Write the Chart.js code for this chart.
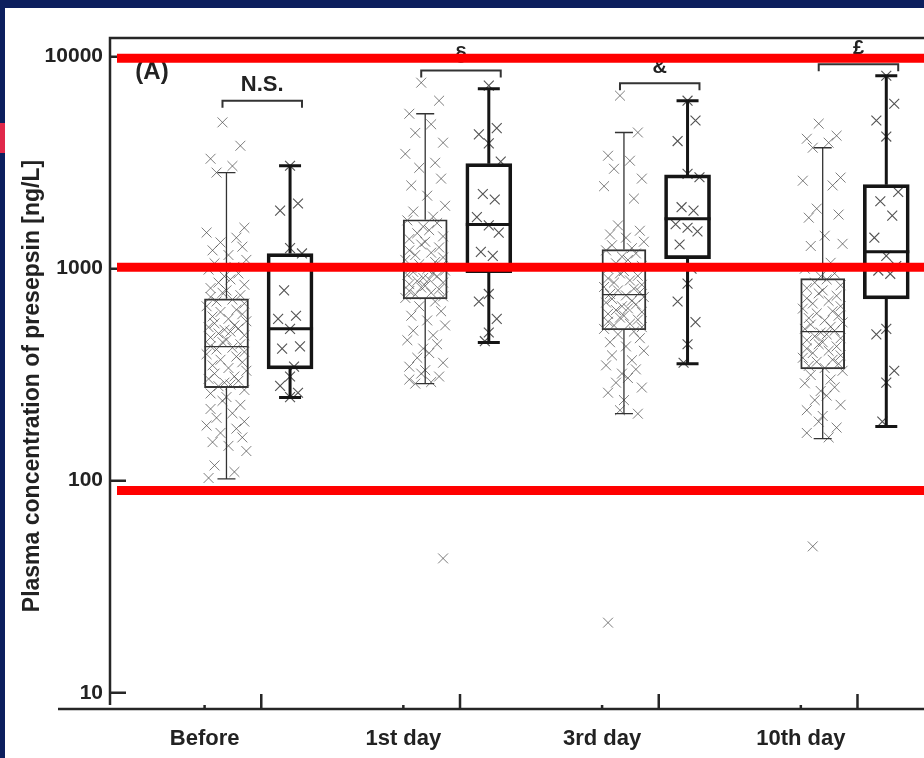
<!DOCTYPE html>
<html>
<head>
<meta charset="utf-8">
<script src="https://cdn.jsdelivr.net/npm/chart.js@4.4.1/dist/chart.umd.min.js"></script>
<style>
  html, body { margin: 0; padding: 0; background: #0c1f5e; }
  canvas { display: block; }
</style>
</head>
<body>
<canvas id="chart" width="924" height="758"></canvas>
<script>
var categories = ['Before', '1st day', '3rd day', '10th day'];
var yTicks = [10, 100, 1000, 10000];

// box stats per category: [lower whisker, Q1, median, Q3, upper whisker] (ng/L)
var boxGroupA = [
  [102, 275, 429, 721, 2840],
  [287, 721, 980, 1702, 5380],
  [207, 515, 754, 1231, 4390],
  [158, 337, 505, 898, 3720]
];
var boxGroupB = [
  [247, 337, 521, 1178, 3060],
  [448, 957, 1615, 3130, 7060],
  [356, 1115, 1722, 2770, 6200],
  [180, 721, 1202, 2490, 8130]
];

// individual values
var pointsA = [
  [4900, 3800, 3300, 3050, 2840, 1560, 1480, 1400, 1330, 1270, 1220, 1160, 1100, 1060, 1020,
   990, 950, 920, 890, 860, 840, 810, 790, 770, 750, 735, 715, 700, 685, 665, 640, 625, 610,
   595, 580, 565, 552, 540, 530, 522, 515, 505, 495, 485, 474, 462, 450, 440, 431, 424, 416,
   405, 395, 385, 372, 362, 350, 340, 330, 320, 310, 302, 296, 290, 284, 279, 268, 258, 248,
   238, 228, 218, 208, 198, 190, 182, 176, 168, 160, 152, 146, 138, 118, 110, 103],
  [7540, 6200, 5380, 4800, 4370, 3930, 3480, 3160, 2990, 2660, 2470, 2210, 1980, 1860, 1760,
   1690, 1640, 1580, 1520, 1470, 1420, 1380, 1340, 1300, 1260, 1220, 1190, 1160, 1130, 1100,
   1075, 1050, 1030, 1010, 995, 980, 965, 950, 935, 920, 905, 890, 875, 860, 845, 830, 815,
   800, 785, 770, 755, 740, 728, 700, 665, 630, 600, 570, 540, 510, 485, 460, 440, 420, 400,
   380, 360, 345, 332, 320, 310, 300, 292, 287, 43],
  [6550, 4390, 3410, 3230, 2960, 2660, 2450, 2140, 1600, 1510, 1450, 1400, 1340, 1290, 1250,
   1220, 1180, 1140, 1100, 1060, 1030, 1000, 975, 950, 925, 900, 880, 860, 840, 820, 805, 790,
   775, 760, 748, 735, 720, 706, 692, 678, 665, 650, 638, 625, 612, 600, 588, 575, 562, 550,
   540, 530, 520, 505, 490, 470, 450, 430, 410, 390, 370, 350, 335, 320, 305, 290, 275, 260,
   240, 215, 207, 21.4],
  [4830, 4240, 4100, 3930, 3720, 2690, 2600, 2470, 1920, 1800, 1740, 1430, 1310, 1280, 1066,
   1000, 950, 920, 890, 860, 835, 810, 790, 765, 745, 725, 705, 685, 665, 648, 630, 615, 600,
   585, 570, 558, 545, 532, 520, 510, 500, 490, 480, 470, 460, 450, 440, 430, 420, 410, 400,
   390, 380, 372, 364, 356, 348, 340, 330, 315, 300, 288, 276, 265, 252, 240, 228, 215, 202,
   190, 178, 168, 160, 49]
];
var pointsB = [
  [3060, 2030, 1880, 1250, 1180, 790, 600, 580, 520, 430, 420, 345, 310, 280, 260, 248],
  [7300, 4600, 4300, 3900, 3200, 2250, 2120, 1750, 1600, 1480, 1200, 1150, 760, 700, 580, 500, 455],
  [6200, 5000, 4000, 2800, 2700, 1950, 1880, 1620, 1560, 1500, 1300, 1000, 850, 700, 560, 440, 360],
  [8130, 6000, 5000, 4200, 2300, 2080, 1780, 1400, 1150, 1030, 980, 946, 520, 490, 330, 290, 190]
];

// horizontal spread of the dots, reused in turn
var jitterA = [-0.02, 0.07, -0.08, 0.03, -0.05, 0.09, -0.1, 0.05, -0.03, 0.08, -0.07, 0.01,
               0.1, -0.06, 0.04, -0.09, 0.06, -0.01, 0.02, -0.04, 0.09, -0.08, 0.0];
var jitterB = [0, 0.04, -0.05, 0, 0.06, -0.03, 0.03, -0.06, 0, 0.05, -0.04, 0.02, 0, -0.05, 0.04, 0, -0.02];

var bracketLabels = ['N.S.', '\u00a7', '&', '\u00a3'];
var bracketLevels = [6200, 8600, 7500, 9200];
var refLines = [9840, 1016, 90];

var SHIFT = 0.16;
var FONT = '"Liberation Sans", Arial, sans-serif';

function boxData(stats, side) {
  return stats.map(function (b, i) { return { x: i + side * SHIFT, y: [b[1], b[3]] }; });
}
function dotData(groups, jitter, side) {
  var out = [];
  groups.forEach(function (vals, i) {
    vals.forEach(function (v, k) {
      out.push({ x: i + side * SHIFT + jitter[k % jitter.length], y: v });
    });
  });
  return out;
}

var decor = {
  id: 'decor',
  beforeDraw: function (chart) {
    var ctx = chart.ctx;
    ctx.save();
    ctx.fillStyle = '#0c1f5e';
    ctx.fillRect(0, 0, chart.width, chart.height);
    ctx.fillStyle = '#ffffff';
    ctx.fillRect(5, 8, chart.width - 5, chart.height - 8);
    ctx.fillStyle = '#e0284a';
    ctx.fillRect(0, 123, 5, 30);
    ctx.restore();
  },
  afterDatasetsDraw: function (chart) {
    var ctx = chart.ctx, xs = chart.scales.x, ys = chart.scales.y;
    function drawBox(stats, side, width, color, cap, boxW) {
      ctx.strokeStyle = color;
      ctx.lineWidth = width;
      stats.forEach(function (b, i) {
        var cx = xs.getPixelForValue(i + side * SHIFT);
        var lo = ys.getPixelForValue(b[0]), q1 = ys.getPixelForValue(b[1]);
        var md = ys.getPixelForValue(b[2]), q3 = ys.getPixelForValue(b[3]);
        var hi = ys.getPixelForValue(b[4]);
        ctx.beginPath();
        ctx.moveTo(cx, q1); ctx.lineTo(cx, lo);
        ctx.moveTo(cx, q3); ctx.lineTo(cx, hi);
        ctx.moveTo(cx - cap / 2, lo); ctx.lineTo(cx + cap / 2, lo);
        ctx.moveTo(cx - cap / 2, hi); ctx.lineTo(cx + cap / 2, hi);
        ctx.moveTo(cx - boxW / 2, md); ctx.lineTo(cx + boxW / 2, md);
        ctx.stroke();
      });
    }
    ctx.save();
    drawBox(boxGroupA, -1, 1.3, '#333333', 18, 44);
    drawBox(boxGroupB, 1, 3, '#151515', 22, 46);
    ctx.restore();
  },
  afterDraw: function (chart) {
    var ctx = chart.ctx, xs = chart.scales.x, ys = chart.scales.y, a = chart.chartArea;
    ctx.save();
    ctx.strokeStyle = '#262626';
    ctx.lineWidth = 2.5;
    ctx.beginPath();
    // frame: left axis, top border, detached bottom axis
    ctx.moveTo(a.left, a.bottom); ctx.lineTo(a.left, a.top); ctx.lineTo(chart.width, a.top);
    ctx.moveTo(58, a.bottom + 4); ctx.lineTo(chart.width, a.bottom + 4);
    ctx.stroke();
    ctx.beginPath();
    yTicks.forEach(function (v) {
      var y = ys.getPixelForValue(v);
      ctx.moveTo(a.left, y); ctx.lineTo(a.left + 16, y);
    });
    categories.forEach(function (c, i) {
      var x = xs.getPixelForValue(i);
      ctx.moveTo(x + 3, a.bottom + 4); ctx.lineTo(x + 3, a.bottom - 11);
      var xl = xs.getPixelForValue(i - 0.27);
      ctx.moveTo(xl, a.bottom + 4); ctx.lineTo(xl, a.bottom);
    });
    ctx.stroke();

    // significance brackets
    ctx.lineWidth = 2;
    ctx.strokeStyle = '#333333';
    ctx.fillStyle = '#222222';
    ctx.textAlign = 'center';
    ctx.textBaseline = 'middle';
    bracketLabels.forEach(function (t, i) {
      var x0 = xs.getPixelForValue(i - SHIFT - 0.02);
      var x1 = xs.getPixelForValue(i + SHIFT + 0.06);
      var y = ys.getPixelForValue(bracketLevels[i]);
      ctx.beginPath();
      ctx.moveTo(x0, y + 7); ctx.lineTo(x0, y); ctx.lineTo(x1, y); ctx.lineTo(x1, y + 7);
      ctx.stroke();
      ctx.font = 'bold ' + (i === 0 ? 22 : 20) + 'px ' + FONT;
      ctx.fillText(t, (x0 + x1) / 2, y - 16);
    });

    ctx.font = 'bold 24px ' + FONT;
    ctx.fillText('(A)', 152, 72);

    // axis title
    ctx.save();
    ctx.translate(33, 386);
    ctx.rotate(-Math.PI / 2);
    ctx.font = 'bold 23px ' + FONT;
    ctx.fillText('Plasma concentration of presepsin [ng/L]', 0, 0);
    ctx.restore();

    // reference lines
    ctx.strokeStyle = '#ff0000';
    ctx.lineWidth = 9;
    ctx.beginPath();
    refLines.forEach(function (v) {
      var y = ys.getPixelForValue(v);
      ctx.moveTo(a.left + 7, y); ctx.lineTo(chart.width, y);
    });
    ctx.stroke();
    ctx.restore();
  }
};

new Chart(document.getElementById('chart'), {
  type: 'bar',
  data: {
    datasets: [
      { type: 'bar', data: boxData(boxGroupB, 1), barThickness: 46, borderWidth: 3,
        borderColor: '#151515', backgroundColor: 'rgba(0,0,0,0)', borderSkipped: false,
        grouped: false, order: 0 },
      { type: 'scatter', data: dotData(pointsB, jitterB, 1), pointStyle: 'crossRot',
        radius: 7, borderWidth: 1.1, borderColor: 'rgba(50,50,50,0.85)', order: 1 },
      { type: 'bar', data: boxData(boxGroupA, -1), barThickness: 44, borderWidth: 1.3,
        borderColor: '#333333', backgroundColor: 'rgba(0,0,0,0)', borderSkipped: false,
        grouped: false, order: 3 },
      { type: 'scatter', data: dotData(pointsA, jitterA, -1), pointStyle: 'crossRot',
        radius: 7, borderWidth: 1, borderColor: 'rgba(70,70,70,0.7)', order: 2 }
    ]
  },
  options: {
    responsive: false,
    animation: false,
    layout: { padding: { top: 38, left: 0, right: 0, bottom: 0 } },
    plugins: { legend: { display: false }, tooltip: { enabled: false } },
    scales: {
      x: {
        type: 'linear',
        offset: false,
        min: -0.746,
        max: 3.309,
        grid: { display: false, drawTicks: false },
        border: { display: false },
        afterBuildTicks: function (scale) {
          scale.ticks = categories.map(function (c, i) { return { value: i - 0.27 }; });
        },
        afterFit: function (scale) { scale.height = 53; },
        ticks: {
          autoSkip: false,
          maxRotation: 0,
          padding: 21,
          color: '#222222',
          font: { family: FONT, size: 22, weight: 'bold' },
          callback: function (v, idx) { return categories[idx]; }
        }
      },
      y: {
        type: 'logarithmic',
        min: 8.75,
        max: 12250,
        grid: { display: false, drawTicks: false },
        border: { display: false },
        afterBuildTicks: function (scale) {
          scale.ticks = yTicks.map(function (v) { return { value: v }; });
        },
        afterFit: function (scale) { scale.width = 110; },
        ticks: {
          padding: 7,
          color: '#222222',
          font: { family: FONT, size: 21, weight: 'bold' },
          callback: function (v) { return String(v); }
        }
      }
    }
  },
  plugins: [decor]
});
</script>
</body>
</html>
